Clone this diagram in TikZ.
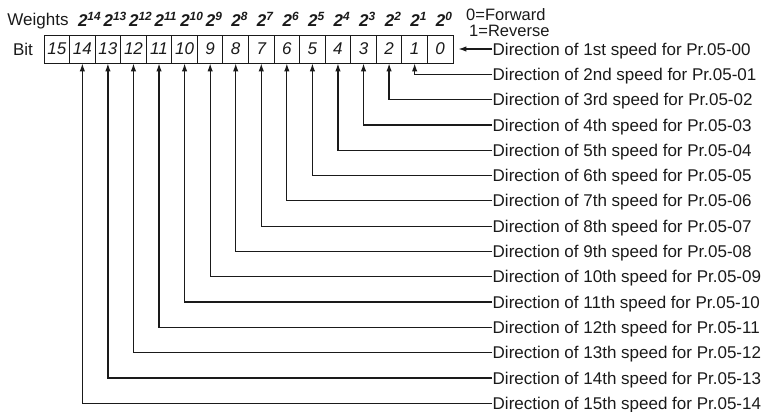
\documentclass[tikz,border=0pt]{standalone}
\usepackage{fontspec}
\setmainfont{Liberation Sans}
\usetikzlibrary{arrows.meta}
\definecolor{ink}{HTML}{1A1A1A}
\tikzset{
  cellbox/.style={draw=ink, line width=0.9pt, minimum width=25.56pt, minimum height=28pt, inner sep=0pt, font=\fontsize{17}{19}\selectfont\itshape, text=ink},
  lbl/.style={anchor=west, inner xsep=0.5pt, inner ysep=0pt, text height=12.2pt, text depth=0pt, font=\fontsize{17}{19}\selectfont, text=ink},
  hdr/.style={inner sep=0pt, font=\fontsize{17}{19}\selectfont, text=ink},
  wgt/.style={inner sep=0pt, anchor=base west, font=\fontsize{17}{19}\selectfont\bfseries\itshape, text=ink},
  conn/.style={draw=ink, line width=1.2pt, -{Latex[length=8pt,width=5.5pt]}}
}
\begin{document}
\begin{tikzpicture}[x=1pt,y=-1pt]
\useasboundingbox (0,0) rectangle (763,412);
% cells
\foreach \b in {0,...,15} {
  \pgfmathsetmacro\cx{44+(15-\b)*25.5625+12.78}
  \node[cellbox] (c\b) at (\cx,49) {\b};
}
% weights
\foreach \b in {0,...,14} {
  \pgfmathsetmacro\cx{44+(15-\b)*25.5625+12.78-4.5}
  \node[wgt] (w\b) at (\cx,27) {2\textsuperscript{\b}};
}
\node[hdr] (weights) at (38,21) {Weights};
\node[hdr] (bitlbl) at (23,49) {Bit};
\node[hdr, anchor=west, font=\fontsize{16.5}{18}\selectfont] (fw) at (466,15) {0=Forward};
\node[hdr, anchor=west, font=\fontsize{16.5}{18}\selectfont] (rv) at (469,31) {1=Reverse};
% labels
\foreach \b/\ord/\pr in {0/1st/00,1/2nd/01,2/3rd/02,3/4th/03,4/5th/04,5/6th/05,6/7th/06,7/8th/07,8/9th/08,9/10th/09,10/11th/10,11/12th/11,12/13th/12,13/14th/13,14/15th/14} {
  \pgfmathsetmacro\ry{49+\b*25.3}
  \node[lbl] (t\b) at (492,\ry) {Direction of \ord\ speed for Pr.05-\pr};
}
\draw[conn, shorten >=5pt] (t0.west) -- (c0.east);
\foreach \b in {1,...,14} {
  \draw[conn] (t\b.west) -| (c\b.south);
}
\end{tikzpicture}
\end{document}
